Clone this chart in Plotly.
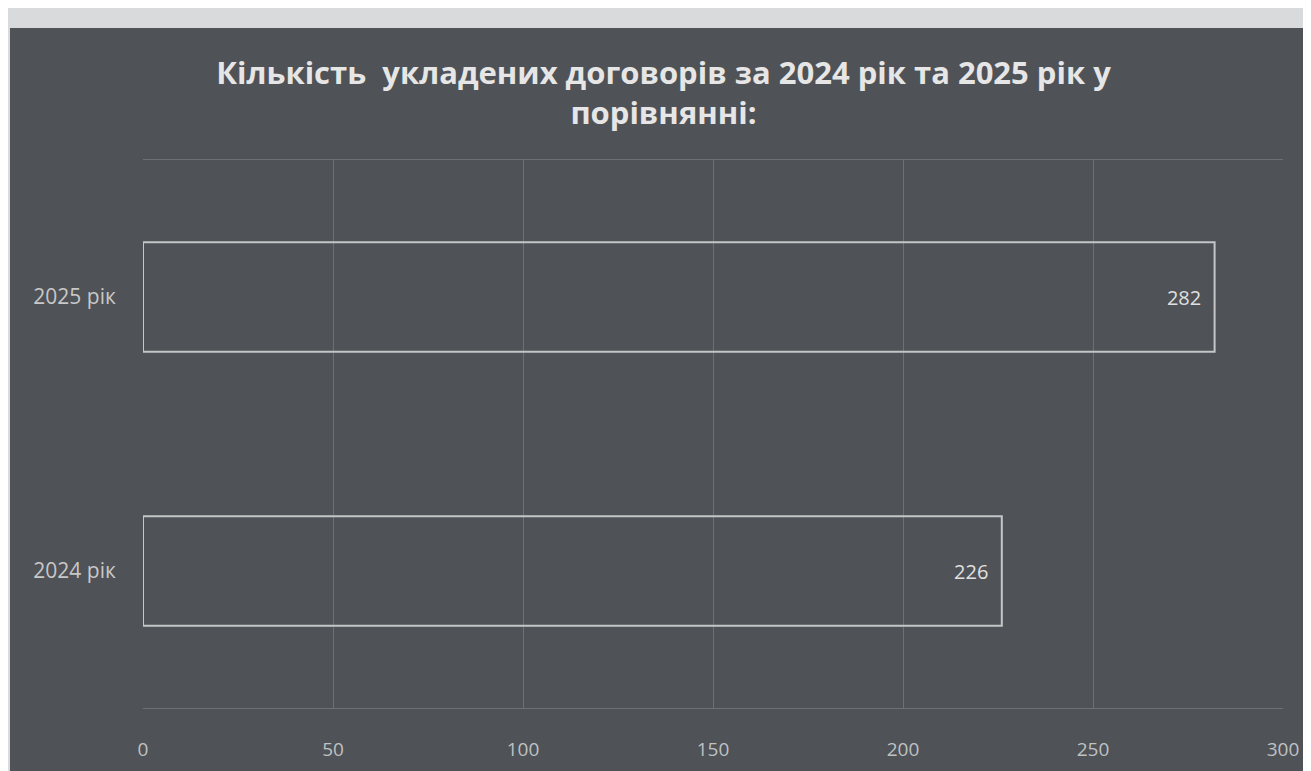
import plotly.graph_objects as go

categories = ["2024 рік", "2025 рік"]
values = [226, 282]
x_ticks = [0, 50, 100, 150, 200, 250, 300]
title_text = "Кількість  укладених договорів за 2024 рік та 2025 рік у<br>порівнянні:"

bg = "#4f5256"
fig = go.Figure()
fig.add_trace(go.Bar(
    y=categories, x=values, orientation="h", width=0.4,
    marker=dict(color="rgba(0,0,0,0)", line=dict(color="#c4c6c8", width=2)),
    text=[str(v) + "\u00a0\u00a0" for v in values], textposition="inside", insidetextanchor="end",
    textfont=dict(color="#e0e0e0", size=20, family="Open Sans"),
    cliponaxis=False,
))
fig.update_layout(
    width=1311, height=771,
    paper_bgcolor="#d9dadb", plot_bgcolor=bg,
    margin=dict(l=135, r=36, t=152, b=71),
    showlegend=False,
    title=dict(text=title_text, x=0.5, xanchor="center", y=0.902, yanchor="top",
               font=dict(family="Open Sans", size=31, color="#e6e6e6", weight="bold")),
    font=dict(family="Open Sans", color="#c8c8c8", size=15),
    shapes=[dict(type="rect", xref="paper", yref="paper", layer="below",
                 x0=-133/1140, x1=1.05, y0=-0.2, y1=1 + 132/548,
                 fillcolor=bg, line=dict(width=0))],
)
fig.update_xaxes(range=[0, 300], tickvals=x_ticks, showgrid=True, gridcolor="#6d7075",
                 gridwidth=1, zeroline=False, ticks="outside", ticklen=24, tickcolor="rgba(0,0,0,0)",
                 tickfont=dict(color="#bfc1c3", size=19), showline=True, linecolor="#6d7075", mirror=True)
fig.update_yaxes(categoryorder="array", categoryarray=categories, range=[-0.5, 1.5],
                 ticks="outside", ticklen=22, tickcolor="rgba(0,0,0,0)",
                 tickfont=dict(color="#c8c8c8", size=21), showgrid=False, zeroline=False)
fig.write_html("out.html")
